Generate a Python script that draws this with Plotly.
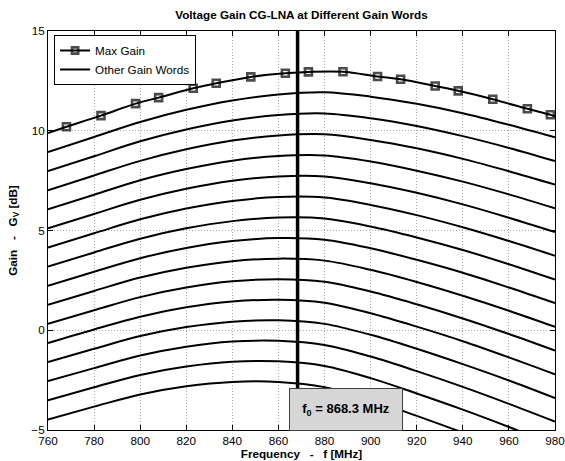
import plotly.graph_objects as go

# ---- data ----
FREQ = [760, 780, 800, 820, 840, 860, 880, 900, 920, 940, 960, 980]

MAX_FREQ = [760, 768, 783, 798, 808, 823, 833, 848, 863, 873, 888, 903, 913, 928, 938, 953, 968, 978, 980]
MAX_GAIN = [9.89, 10.2, 10.76, 11.36, 11.66, 12.13, 12.38, 12.7, 12.88, 12.95, 12.96, 12.72, 12.58, 12.24, 12.0, 11.58, 11.1, 10.8, 10.72]
MAX_MARK = [0] + [7] * 17 + [0]

gw01 = [8.93, 9.69, 10.44, 11.05, 11.52, 11.82, 11.93, 11.71, 11.35, 10.88, 10.30, 9.67]
gw02 = [7.98, 8.72, 9.47, 10.06, 10.51, 10.79, 10.87, 10.63, 10.24, 9.73, 9.14, 8.48]
gw03 = [7.02, 7.76, 8.49, 9.07, 9.51, 9.76, 9.82, 9.54, 9.12, 8.59, 7.97, 7.30]
gw04 = [6.06, 6.79, 7.52, 8.08, 8.50, 8.73, 8.76, 8.46, 8.00, 7.45, 6.81, 6.11]
gw05 = [5.11, 5.83, 6.54, 7.09, 7.49, 7.71, 7.71, 7.37, 6.89, 6.31, 5.64, 4.92]
gw06 = [4.15, 4.86, 5.56, 6.10, 6.48, 6.68, 6.65, 6.28, 5.77, 5.16, 4.47, 3.73]
gw07 = [3.19, 3.90, 4.59, 5.11, 5.47, 5.65, 5.60, 5.20, 4.65, 4.02, 3.31, 2.54]
gw08 = [2.23, 2.93, 3.61, 4.12, 4.47, 4.62, 4.54, 4.11, 3.53, 2.88, 2.14, 1.36]
gw09 = [1.28, 1.97, 2.64, 3.13, 3.46, 3.59, 3.49, 3.03, 2.42, 1.73, 0.98, 0.17]
gw10 = [0.32, 1.00, 1.66, 2.14, 2.45, 2.56, 2.43, 1.94, 1.30, 0.59, -0.19, -1.02]
gw11 = [-0.64, 0.04, 0.68, 1.15, 1.44, 1.53, 1.38, 0.85, 0.18, -0.55, -1.36, -2.21]
gw12 = [-1.59, -0.93, -0.29, 0.16, 0.43, 0.50, 0.32, -0.23, -0.93, -1.70, -2.52, -3.40]
gw13 = [-2.55, -1.90, -1.27, -0.83, -0.57, -0.53, -0.74, -1.32, -2.05, -2.84, -3.69, -4.58]
gw14 = [-3.51, -2.86, -2.24, -1.82, -1.58, -1.56, -1.79, -2.40, -3.17, -3.98, -4.85, -5.77]
gw15 = [-4.47, -3.83, -3.22, -2.81, -2.59, -2.59, -2.85, -3.49, -4.29, -5.13, -6.02, -6.96]
OTHER = [gw01, gw02, gw03, gw04, gw05, gw06, gw07, gw08, gw09, gw10, gw11, gw12, gw13, gw14, gw15]

F0 = 868.3
X_TICKS = [760, 780, 800, 820, 840, 860, 880, 900, 920, 940, 960, 980]
Y_TICKS = [-5, 0, 5, 10, 15]

FONT = "Liberation Sans, Arial, sans-serif"
FS = 11.7

fig = go.Figure()

fig.add_trace(go.Scatter(
    x=MAX_FREQ, y=MAX_GAIN, mode="lines+markers", name="Max Gain",
    line=dict(color="black", width=2, shape="spline"),
    marker=dict(symbol="square-open", size=MAX_MARK, color="black", line=dict(width=2.6, color="black")),
))
for i, g in enumerate(OTHER):
    fig.add_trace(go.Scatter(
        x=FREQ, y=g, mode="lines", name="Other Gain Words",
        line=dict(color="black", width=2, shape="spline"),
        showlegend=(i == 0),
    ))

fig.add_shape(type="line", xref="x", yref="paper", x0=F0, x1=F0, y0=0, y1=1,
              line=dict(color="black", width=3.5), layer="above")

fig.add_annotation(
    x=F0, xref="x", xanchor="left", xshift=-9,
    y=0, yref="paper", yanchor="bottom", yshift=-1,
    text="<b>f<sub>0</sub> = 868.3 MHz</b>", showarrow=False,
    font=dict(family=FONT, size=13, color="black"),
    bgcolor="#d6d6d6", bordercolor="#404040", borderwidth=1,
    width=112, height=41, borderpad=0, align="center", valign="middle",
)

axis_common = dict(
    showline=True, linecolor="black", linewidth=1, mirror="ticks",
    ticks="inside", ticklen=5, tickcolor="black", tickwidth=1,
    showgrid=True, gridcolor="#a8a8a8", griddash="1px,2px", gridwidth=1,
    zeroline=False, tickfont=dict(family=FONT, size=FS, color="black"),
    ticklabeloverflow="allow",
)

fig.update_layout(
    width=565, height=461,
    margin=dict(l=48, r=10, t=31, b=31),
    paper_bgcolor="white", plot_bgcolor="white",
    title=dict(text="<b>Voltage Gain CG-LNA at Different Gain Words</b>",
               x=(48 + 555) / 2 / 565, xanchor="center", y=1 - 15 / 461, yanchor="middle",
               font=dict(family=FONT, size=FS, color="black")),
    xaxis=dict(range=[760, 980], tickvals=X_TICKS, automargin=False,
               title=dict(text="<b>Frequency   -   f [MHz]</b>", standoff=1,
                          font=dict(family=FONT, size=FS, color="black")),
               **axis_common),
    yaxis=dict(range=[-5, 15], tickvals=Y_TICKS, automargin=False,
               title=dict(text="<b>Gain   -   G<sub>V</sub> [dB]</b>", standoff=11,
                          font=dict(family=FONT, size=FS, color="black")),
               **axis_common),
    legend=dict(x=0.012, y=0.99, xanchor="left", yanchor="top",
                bgcolor="white", bordercolor="black", borderwidth=1,
                font=dict(family=FONT, size=FS, color="black"),
                tracegroupgap=0),
    showlegend=True,
)

fig.write_html("out.html")
